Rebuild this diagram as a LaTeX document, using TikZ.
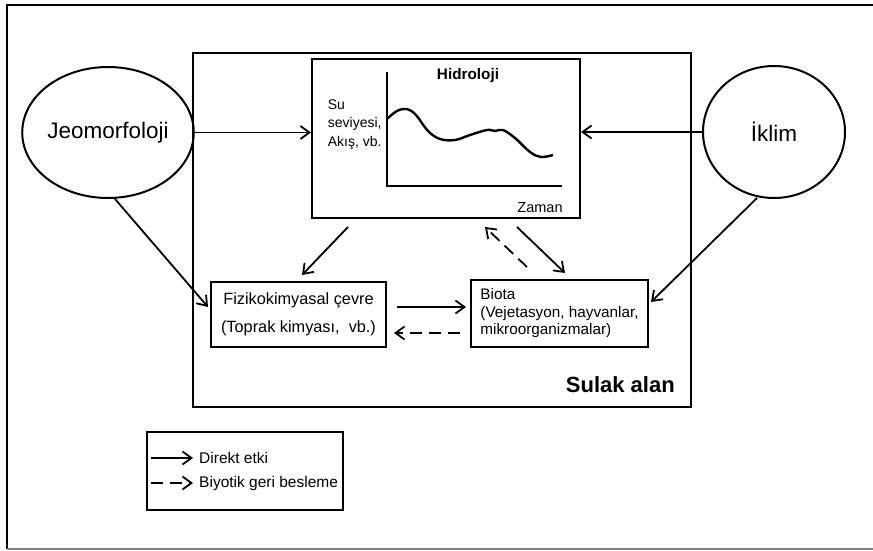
\documentclass[tikz,border=0pt]{standalone}
\usepackage{fontspec}
\setmainfont{Liberation Sans}
\usepackage{tikz}
\usetikzlibrary{shapes.geometric}
\usetikzlibrary{arrows.meta}
\tikzset{kutu/.style={draw, line width=2.1pt, inner sep=0pt}}
\tikzset{daire/.style={draw, ellipse, line width=2pt, inner sep=0pt}}
\tikzset{geri/.style={dash pattern=on 12pt off 7pt}}
\tikzset{yazi/.style={font=\fontsize{15.5}{18}\selectfont}}

\begin{document}
\begin{tikzpicture}[x=1pt,y=-1pt,line width=1.8pt,
    >={Straight Barb[length=9pt,width=13pt]}]

    \useasboundingbox (0,0) rectangle (873,551);

    % cerceve
    \draw[line width=2.2pt] (873,5) -- (7,5) -- (7,549);
    \draw[line width=1.5pt, gray] (7,549) -- (873,549);

    \node[kutu, minimum width=498pt, minimum height=354pt] (sulak) at (442,230) {};
    \node[kutu, minimum width=268pt, minimum height=159pt] (hidro) at (446,138.5) {};
    \node[kutu, minimum width=175pt, minimum height=65pt,
          align=center, font=\fontsize{16.3}{28}\selectfont] (fiziko) at (298.5,314.5)
          {Fizikokimyasal çevre\\(Toprak kimyası,\ \ vb.)};
    \node[kutu, minimum width=177pt, minimum height=67pt, font=\fontsize{15.3}{17.5}\selectfont,
          align=left] (biota) at (559.5,313.5)
          {Biota\\(Vejetasyon, hayvanlar,\\mikroorganizmalar)};
    \node[kutu, minimum width=196pt, minimum height=78pt] (legend) at (245,471) {};

    \node[daire, minimum width=144pt, minimum height=131pt,
          font=\fontsize{22.5}{26}\selectfont] (jeo) at (108,132.5) {Jeomorfoloji};
    \node[daire, minimum width=142pt, minimum height=132pt,
          font=\fontsize{22.5}{26}\selectfont] (iklim) at (774,132) {İklim};

    \coordinate (J1) at (115,199);
    \coordinate (F1) at (208,307);
    \coordinate (I1) at (757,198);
    \coordinate (B1) at (651,302);

    \coordinate (H1) at (348,227);
    \coordinate (F2) at (302,275);
    \coordinate (H2) at (517,227);
    \coordinate (B2) at (565,273);
    \coordinate (B3) at (527,267);
    \coordinate (H3) at (485,227);

    \coordinate (F3) at (397,307);
    \coordinate (B4) at (466,307);
    \coordinate (B5) at (460,333);
    \coordinate (F4) at (394,333);

    \coordinate (L1) at (151,458);
    \coordinate (L2) at (193,458);
    \coordinate (L3) at (151,483);
    \coordinate (L4) at (193,483);

    % grafik
    \draw[line width=2pt] (387,72) -- (387,186) -- (562,186);
    \draw[line width=2.4pt] plot[smooth, tension=0.6] coordinates
      {(387,119) (397,111) (407,109) (416,115) (428,131) (440,139)
       (455,140) (470,135) (487,130) (495,131) (503,130) (515,138)
       (530,152) (541,157) (553,155)};

    \draw[->] (jeo.east) -- (jeo.east -| hidro.west);
    \draw[->] (iklim.west) -- (iklim.west -| hidro.east);
    \draw[->] (J1) -- (F1);
    \draw[->] (I1) -- (B1);

    \draw[->] (H1) -- (F2);
    \draw[->] (H2) -- (B2);
    \draw[->, geri] (B3) -- (H3);

    \draw[->] (F3) -- (B4);
    \draw[->, geri] (B5) -- (F4);

    \draw[->] (L1) -- (L2);
    \draw[->, geri] (L3) -- (L4);

%labels
    \node[font=\fontsize{15.3}{18}\selectfont\bfseries] (hbaslik) at (468,76) {Hidroloji};
    \node[font=\fontsize{14}{16}\selectfont, inner sep=0pt, anchor=west] (su1) at (327,105) {Su};
    \node[font=\fontsize{14}{16}\selectfont, inner sep=0pt, anchor=west] (su2) at (327,124) {seviyesi,};
    \node[font=\fontsize{14}{16}\selectfont, inner sep=0pt, anchor=west] (su3) at (327,143) {Akış, vb.};
    \node[font=\fontsize{14.5}{16}\selectfont] (zaman) at (540,208) {Zaman};

    \node[font=\fontsize{22}{26}\selectfont\bfseries, anchor=base east] (sulakad) at (679,392) {Sulak alan};

    \node[yazi, anchor=west] (direkt) at (195,458) {Direkt etki};
    \node[yazi, anchor=west] (biyotik) at (195,483) {Biyotik geri besleme};
\end{tikzpicture}
\end{document}
